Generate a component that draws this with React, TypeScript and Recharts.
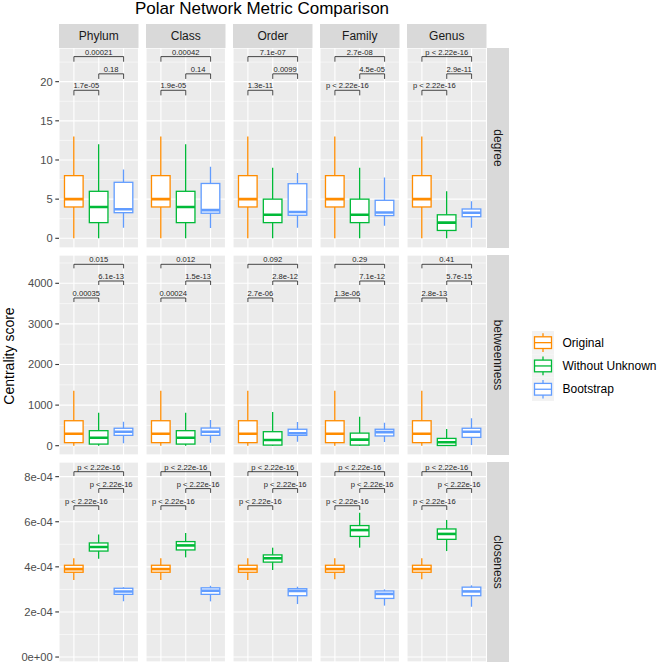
import React from 'react';
import { ComposedChart, Bar, XAxis, YAxis, CartesianGrid, ReferenceLine } from 'recharts';

// ---------- data ----------
const taxa = ['Phylum', 'Class', 'Order', 'Family', 'Genus'];
const metrics = ['degree', 'betweenness', 'closeness'];
const groups = ['Original', 'Without Unknown', 'Bootstrap'];
const groupColors = ['#FF8C00', '#00BA38', '#619CFF'];

// box stats per taxon: [min, q1, median, q3, max]
const degreeOriginal = [[0, 4, 5, 8, 13], [0, 4, 5, 8, 13], [0, 4, 5, 8, 13], [0, 4, 5, 8, 13], [0, 4, 5, 8, 13]];
const degreeWithoutUnknown = [[0, 2, 4, 6, 12], [0, 2, 4, 6, 12], [0, 2, 3, 5, 9], [0, 2, 3, 5, 9], [0, 1, 2, 3, 6]];
const degreeBootstrap = [[1.35, 3.27, 3.7, 7.15, 8.8], [1.3, 3.2, 3.6, 7.0, 9.15], [1.36, 2.94, 3.36, 6.97, 8.34], [1.6, 2.9, 3.3, 4.85, 7.75], [1.36, 2.76, 3.27, 3.74, 4.72]];

const betweennessOriginal = [[0, 75, 295, 615, 1355], [0, 75, 295, 615, 1355], [0, 75, 295, 615, 1355], [0, 75, 295, 615, 1355], [0, 75, 295, 615, 1355]];
const betweennessWithoutUnknown = [[0, 40, 195, 370, 810], [0, 40, 195, 370, 810], [0, 15, 140, 345, 830], [0, 15, 150, 310, 715], [0, 5, 85, 180, 410]];
const betweennessBootstrap = [[60, 255, 345, 430, 590], [75, 255, 345, 435, 635], [100, 255, 305, 405, 585], [90, 240, 335, 405, 565], [20, 205, 345, 430, 675]];

const closenessOriginal = [[3.42e-4, 3.76e-4, 3.9e-4, 4.07e-4, 4.38e-4], [3.42e-4, 3.76e-4, 3.9e-4, 4.07e-4, 4.38e-4], [3.42e-4, 3.76e-4, 3.9e-4, 4.07e-4, 4.38e-4], [3.45e-4, 3.76e-4, 3.9e-4, 4.07e-4, 4.38e-4], [3.45e-4, 3.76e-4, 3.9e-4, 4.07e-4, 4.38e-4]];
const closenessWithoutUnknown = [[4.36e-4, 4.7e-4, 4.88e-4, 5.06e-4, 5.44e-4], [4.42e-4, 4.75e-4, 4.95e-4, 5.12e-4, 5.5e-4], [3.86e-4, 4.21e-4, 4.38e-4, 4.53e-4, 4.85e-4], [4.85e-4, 5.35e-4, 5.63e-4, 5.83e-4, 6.4e-4], [4.7e-4, 5.22e-4, 5.46e-4, 5.68e-4, 6.08e-4]];
const closenessBootstrap = [[2.47e-4, 2.78e-4, 2.91e-4, 3.05e-4, 3.1e-4], [2.47e-4, 2.78e-4, 2.94e-4, 3.07e-4, 3.16e-4], [2.35e-4, 2.72e-4, 2.93e-4, 3.03e-4, 3.12e-4], [2.28e-4, 2.6e-4, 2.8e-4, 2.93e-4, 3.0e-4], [2.23e-4, 2.72e-4, 2.91e-4, 3.1e-4, 3.18e-4]];

// p-value labels per taxon: [Original vs WU, WU vs Bootstrap, Original vs Bootstrap]
const degreePLabels = [
  ['1.7e-05', '0.18', '0.00021'],
  ['1.9e-05', '0.14', '0.00042'],
  ['1.3e-11', '0.0099', '7.1e-07'],
  ['p < 2.22e-16', '4.5e-05', '2.7e-08'],
  ['p < 2.22e-16', '2.9e-11', 'p < 2.22e-16'],
];
const betweennessPLabels = [
  ['0.00035', '6.1e-13', '0.015'],
  ['0.00024', '1.5e-13', '0.012'],
  ['2.7e-06', '2.8e-12', '0.092'],
  ['1.3e-06', '7.1e-12', '0.29'],
  ['2.8e-13', '5.7e-15', '0.41'],
];
const closenessPLabels = [
  ['p < 2.22e-16', 'p < 2.22e-16', 'p < 2.22e-16'],
  ['p < 2.22e-16', 'p < 2.22e-16', 'p < 2.22e-16'],
  ['p < 2.22e-16', 'p < 2.22e-16', 'p < 2.22e-16'],
  ['p < 2.22e-16', 'p < 2.22e-16', 'p < 2.22e-16'],
  ['p < 2.22e-16', 'p < 2.22e-16', 'p < 2.22e-16'],
];

// axis ticks
const degreeTicks = [0, 5, 10, 15, 20];
const degreeMinorTicks = [2.5, 7.5, 12.5, 17.5, 22.5];
const betweennessTicks = [0, 1000, 2000, 3000, 4000];
const betweennessMinorTicks = [500, 1500, 2500, 3500, 4500];
const closenessTicks = [0, 2e-4, 4e-4, 6e-4, 8e-4];
const closenessMinorTicks = [1e-4, 3e-4, 5e-4, 7e-4];

// bracket heights (data units): [lower, middle, top], and tip length
const degreeBrackets = [18.9, 21.0, 23.2];
const betweennessBrackets = [3638, 4057, 4468];
const closenessBrackets = [6.71e-4, 7.47e-4, 8.22e-4];

const rows = [
  { stats: [degreeOriginal, degreeWithoutUnknown, degreeBootstrap], labels: degreePLabels, ticks: degreeTicks, minor: degreeMinorTicks, domain: [-1.24, 24.3], brackets: degreeBrackets, tip: 0.65 },
  { stats: [betweennessOriginal, betweennessWithoutUnknown, betweennessBootstrap], labels: betweennessPLabels, ticks: betweennessTicks, minor: betweennessMinorTicks, domain: [-229, 4697], brackets: betweennessBrackets, tip: 100 },
  { stats: [closenessOriginal, closenessWithoutUnknown, closenessBootstrap], labels: closenessPLabels, ticks: closenessTicks, minor: closenessMinorTicks, domain: [-0.22e-4, 8.65e-4], brackets: closenessBrackets, tip: 0.19e-4 },
];

// ---------- layout ----------
const FONT = '"Liberation Sans", Arial, Helvetica, sans-serif';
const PANEL_X0 = 59;
const PANEL_W = 79.5;
const PANEL_STEP = 87;
const ROW_Y0 = 48;
const ROW_H = 200;
const ROW_STEP = 207;
const AXIS_W = 59;

function sciFormat(v: number): string {
  if (v === 0) return '0e+00';
  const e = Math.floor(Math.log10(Math.abs(v)) + 1e-9);
  const m = Math.round(v / Math.pow(10, e));
  const sign = e < 0 ? '-' : '+';
  return `${m}e${sign}${String(Math.abs(e)).padStart(2, '0')}`;
}

const BoxShape = (props: any) => {
  const { x, y, width, height, payload } = props;
  if (!payload || x == null) return null;
  const top = Math.min(y, y + height);
  const bot = Math.max(y, y + height);
  const span = payload.max - payload.min;
  const k = span > 0 ? (bot - top) / span : 0;
  const py = (v: number) => bot - (v - payload.min) * k;
  const cx = x + width / 2;
  const c = payload.color;
  return (
    <g>
      <line x1={cx} x2={cx} y1={py(payload.max)} y2={py(payload.q3)} stroke={c} strokeWidth={1.3} />
      <line x1={cx} x2={cx} y1={py(payload.q1)} y2={py(payload.min)} stroke={c} strokeWidth={1.3} />
      <rect x={x} y={py(payload.q3)} width={width} height={Math.max(0, py(payload.q1) - py(payload.q3))} fill="#FFFFFF" stroke={c} strokeWidth={1.3} />
      <line x1={x} x2={x + width} y1={py(payload.med)} y2={py(payload.med)} stroke={c} strokeWidth={2.6} />
    </g>
  );
};

function Panel({ rowIdx, colIdx }: { rowIdx: number; colIdx: number }) {
  const row = rows[rowIdx];
  const isLeft = colIdx === 0;
  const data = groups.map((g, gi) => {
    const s = row.stats[gi][colIdx];
    return {
      group: g,
      pos: gi + 1,
      range: [s[0], s[4]],
      min: s[0],
      q1: s[1],
      med: s[2],
      q3: s[3],
      max: s[4],
      color: groupColors[gi],
    };
  });
  const width = PANEL_W + (isLeft ? AXIS_W : 0);
  const left = isLeft ? PANEL_X0 - AXIS_W : PANEL_X0 + colIdx * PANEL_STEP;
  const top = ROW_Y0 + rowIdx * ROW_STEP;
  const pad = PANEL_W * 0.03125;
  const barSize = (0.75 * PANEL_W) / 3.2;
  const pairs: [number, number][] = [[1, 2], [2, 3], [1, 3]];
  const labels = row.labels[colIdx];
  const tickFmt = rowIdx === 2 ? sciFormat : (v: number) => String(v);

  return (
    <div style={{ position: 'absolute', left, top, width, height: ROW_H }}>
      <ComposedChart width={width} height={ROW_H} data={data} margin={{ top: 0, right: 0, bottom: 0, left: 0 }}>
        <XAxis xAxisId="num" type="number" dataKey="pos" domain={[0.4, 3.6]} ticks={[1, 2, 3]} allowDataOverflow hide />
        <XAxis xAxisId="cat" type="category" dataKey="group" padding={{ left: pad, right: pad }} hide />
        <YAxis
          yAxisId="main"
          type="number"
          domain={row.domain}
          ticks={row.ticks}
          allowDataOverflow
          hide={!isLeft}
          width={AXIS_W}
          axisLine={false}
          tickSize={3.7}
          tickMargin={2.5}
          tickLine={{ stroke: '#333333', strokeWidth: 1.1 }}
          tick={{ fill: '#4D4D4D', fontSize: 11.2, fontFamily: FONT }}
          tickFormatter={tickFmt}
          interval={0}
        />
        <YAxis yAxisId="minor" type="number" domain={row.domain} ticks={row.minor} allowDataOverflow hide />
        <CartesianGrid xAxisId="num" yAxisId="minor" vertical={false} stroke="#FFFFFF" strokeWidth={0.55} fill="#EBEBEB" />
        <CartesianGrid xAxisId="num" yAxisId="main" stroke="#FFFFFF" strokeWidth={1.1} />
        <Bar xAxisId="cat" yAxisId="main" dataKey="range" barSize={barSize} shape={BoxShape} isAnimationActive={false} />
        {pairs.map((p, bi) => {
          const yb = row.brackets[bi];
          const yt = yb - row.tip;
          const st = { stroke: '#1A1A1A', strokeWidth: 0.8 };
          return [
            <ReferenceLine
              key={`h${bi}`}
              xAxisId="num"
              yAxisId="main"
              segment={[{ x: p[0], y: yb }, { x: p[1], y: yb }]}
              {...st}
              label={{ value: labels[bi], position: 'top', offset: 1.8, fontSize: 7.6, fill: '#262626', fontFamily: FONT }}
            />,
            <ReferenceLine key={`l${bi}`} xAxisId="num" yAxisId="main" segment={[{ x: p[0], y: yb }, { x: p[0], y: yt }]} {...st} />,
            <ReferenceLine key={`r${bi}`} xAxisId="num" yAxisId="main" segment={[{ x: p[1], y: yb }, { x: p[1], y: yt }]} {...st} />,
          ];
        })}
      </ComposedChart>
    </div>
  );
}

export default function App() {
  const legendTop = 331;
  const legendRowH = 23.3;
  return (
    <div style={{ position: 'absolute', left: 0, top: 0, width: 657, height: 663, overflow: 'hidden', background: '#FFFFFF', fontFamily: FONT }}>
      <svg width={657} height={663} style={{ position: 'absolute', left: 0, top: 0 }}>
        <text x={262} y={14} textAnchor="middle" fontSize={17} fill="#000000" fontFamily={FONT}>Polar Network Metric Comparison</text>
        {taxa.map((t, i) => {
          const x = PANEL_X0 + i * PANEL_STEP;
          return (
            <g key={t}>
              <rect x={x} y={24} width={PANEL_W} height={24} fill="#D9D9D9" />
              <text x={x + PANEL_W / 2} y={36} textAnchor="middle" dominantBaseline="central" fontSize={12} fill="#1A1A1A" fontFamily={FONT}>{t}</text>
            </g>
          );
        })}
        {metrics.map((m, i) => {
          const y = ROW_Y0 + i * ROW_STEP;
          const x = PANEL_X0 + 4 * PANEL_STEP + PANEL_W;
          return (
            <g key={m}>
              <rect x={x} y={y} width={22.5} height={ROW_H} fill="#D9D9D9" />
              <text x={x + 11.25} y={y + ROW_H / 2} textAnchor="middle" dominantBaseline="central" fontSize={12} fill="#1A1A1A" fontFamily={FONT} transform={`rotate(90 ${x + 11.25} ${y + ROW_H / 2})`}>{m}</text>
            </g>
          );
        })}
        <text x={9} y={356} textAnchor="middle" dominantBaseline="central" fontSize={14} fill="#000000" fontFamily={FONT} transform="rotate(-90 9 356)">Centrality score</text>
        {groups.map((g, i) => {
          const ty = legendTop + i * legendRowH;
          const c = groupColors[i];
          const cx = 543;
          return (
            <g key={g}>
              <rect x={532} y={ty} width={22} height={legendRowH} fill="#F2F2F2" />
              <line x1={cx} x2={cx} y1={ty + 2.3} y2={ty + 5.8} stroke={c} strokeWidth={1.3} />
              <line x1={cx} x2={cx} y1={ty + 17.5} y2={ty + 21} stroke={c} strokeWidth={1.3} />
              <rect x={534.5} y={ty + 5.8} width={17} height={11.7} fill="#FFFFFF" stroke={c} strokeWidth={1.3} />
              <line x1={534.5} x2={551.5} y1={ty + 11.65} y2={ty + 11.65} stroke={c} strokeWidth={1.3} />
              <text x={562.5} y={ty + 11.65} dominantBaseline="central" fontSize={12} fill="#000000" fontFamily={FONT}>{g}</text>
            </g>
          );
        })}
      </svg>
      {rows.map((_, ri) => taxa.map((_, ci) => <Panel key={`${ri}-${ci}`} rowIdx={ri} colIdx={ci} />))}
    </div>
  );
}
